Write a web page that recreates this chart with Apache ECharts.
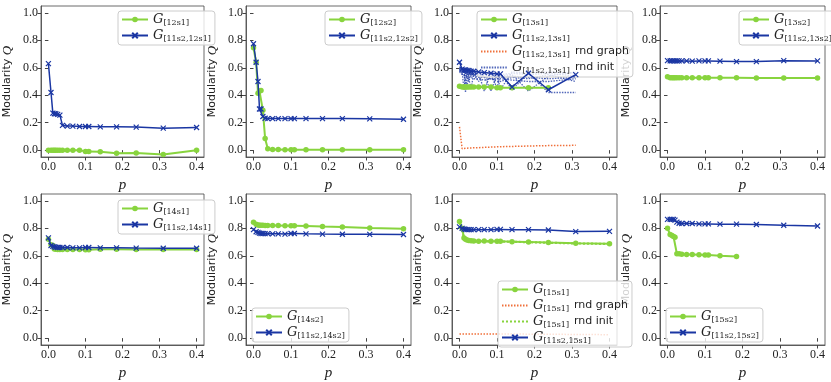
<!DOCTYPE html>
<html>
<head>
<meta charset="utf-8">
<script src="https://cdn.jsdelivr.net/npm/echarts@6/dist/echarts.min.js"></script>
<style>
  html, body { margin: 0; padding: 0; background: #fff; }
  #chart { width: 831px; height: 382px; }
</style>
</head>
<body>
<div id="chart"></div>
<script>
// p values (x axis), shared by all panels
const pValues = [0, 0.007, 0.012, 0.016, 0.02, 0.025, 0.031, 0.038, 0.051, 0.066, 0.084, 0.1, 0.109, 0.14, 0.184, 0.237, 0.31, 0.4]
const xTicks = [0, 0.1, 0.2, 0.3, 0.4]
const yTicks = [0, 0.2, 0.4, 0.6, 0.8, 1.0]

// panel 1
const g12s1 = [0, 0, 0, 0, 0, 0, 0, 0, 0, 0, 0, -0.01, -0.01, -0.012, -0.022, -0.02, -0.032, 0.0]
const b12s1 = [0.63, 0.42, 0.27, 0.265, 0.265, 0.26, 0.255, 0.18, 0.175, 0.175, 0.172, 0.172, 0.172, 0.17, 0.17, 0.168, 0.16, 0.165]
// panel 2
const g12s2 = [0.745, 0.64, 0.415, 0.43, 0.435, 0.29, 0.085, 0.01, 0.005, 0.005, 0.003, 0.003, 0.003, 0.003, 0.002, 0.002, 0.002, 0.002]
const b12s2 = [0.775, 0.64, 0.5, 0.3, 0.3, 0.245, 0.232, 0.23, 0.23, 0.23, 0.23, 0.23, 0.23, 0.23, 0.23, 0.23, 0.228, 0.225]
// panel 3
const g13s1 = [0.465, 0.46, 0.46, 0.46, 0.46, 0.46, 0.46, 0.46, 0.46, 0.46, 0.46, 0.455, 0.455, 0.455, 0.455, 0.455]
const b13s1 = [0.64, 0.59, 0.585, 0.585, 0.58, 0.58, 0.575, 0.575, 0.57, 0.565, 0.56, 0.555, 0.555, 0.46, 0.56, 0.44, 0.55]
const o13s1 = [0.17, 0.01, 0.012, 0.013, 0.014, 0.015, 0.016, 0.017, 0.018, 0.02, 0.022, 0.024, 0.025, 0.027, 0.03, 0.033, 0.035]
const r13s1a = [0.6, 0.58, 0.57, 0.56, 0.55, 0.55, 0.54, 0.54, 0.53, 0.53, 0.52, 0.52, 0.52, 0.51, 0.5, 0.5, 0.52]
const r13s1b = [0.59, 0.57, 0.44, 0.56, 0.55, 0.5, 0.56, 0.55, 0.55, 0.54, 0.43, 0.55, 0.54, 0.55, 0.43, 0.54, 0.57]
const r13s1c = [0.58, 0.56, 0.58, 0.42, 0.57, 0.57, 0.45, 0.56, 0.56, 0.55, 0.56, 0.45, 0.56, 0.44, 0.56, 0.42, 0.42]
const r13s1d = [0.6, 0.59, 0.56, 0.57, 0.46, 0.56, 0.55, 0.55, 0.5, 0.56, 0.55, 0.56, 0.55, 0.56, 0.55, 0.56, 0.54]
const r13s1e = [0.57, 0.55, 0.55, 0.54, 0.54, 0.53, 0.53, 0.52, 0.52, 0.51, 0.52, 0.5, 0.5, 0.53, 0.52, 0.55, 0.5]
const r13s1f = [0.59, 0.58, 0.58, 0.57, 0.57, 0.56, 0.56, 0.55, 0.56, 0.43, 0.57, 0.56, 0.44, 0.57, 0.56, 0.57, 0.56]
const r13s1g = [0.58, 0.57, 0.56, 0.56, 0.56, 0.55, 0.55, 0.55, 0.54, 0.55, 0.54, 0.54, 0.53, 0.54, 0.53, 0.52, 0.53]
// panel 4
const g13s2 = [0.535, 0.528, 0.527, 0.527, 0.527, 0.527, 0.527, 0.527, 0.527, 0.527, 0.527, 0.527, 0.527, 0.527, 0.527, 0.526, 0.526, 0.525]
const b13s2 = [0.652, 0.65, 0.65, 0.65, 0.65, 0.65, 0.65, 0.65, 0.65, 0.648, 0.65, 0.65, 0.65, 0.648, 0.645, 0.645, 0.652, 0.65]
// panel 5
const g14s1 = [0.72, 0.68, 0.675, 0.65, 0.648, 0.646, 0.646, 0.646, 0.646, 0.645, 0.645, 0.643, 0.643, 0.648, 0.648, 0.646, 0.645, 0.645]
const b14s1 = [0.73, 0.675, 0.668, 0.665, 0.662, 0.66, 0.66, 0.66, 0.66, 0.658, 0.658, 0.66, 0.66, 0.658, 0.658, 0.656, 0.655, 0.655]
// panel 6
const g14s2 = [0.845, 0.83, 0.825, 0.823, 0.822, 0.822, 0.821, 0.821, 0.82, 0.82, 0.819, 0.819, 0.819, 0.817, 0.813, 0.809, 0.803, 0.797]
const b14s2 = [0.79, 0.775, 0.77, 0.765, 0.762, 0.762, 0.761, 0.761, 0.76, 0.76, 0.758, 0.762, 0.762, 0.76, 0.758, 0.757, 0.756, 0.755]
// panel 7
const g15s1 = [0.85, 0.8, 0.73, 0.72, 0.715, 0.712, 0.71, 0.708, 0.706, 0.708, 0.706, 0.705, 0.705, 0.703, 0.7, 0.696, 0.692, 0.688]
const o15s1 = [0.03, 0.031, 0.031, 0.031, 0.031, 0.031, 0.031, 0.031, 0.031, 0.03, 0.03, 0.03, 0.03, 0.03, 0.029, 0.028, 0.027, 0.025]
const i15s1 = [0.84, 0.79, 0.725, 0.718, 0.713, 0.71, 0.708, 0.707, 0.705, 0.706, 0.705, 0.704, 0.703, 0.702, 0.699, 0.695, 0.69, 0.686]
const b15s1 = [0.81, 0.8, 0.795, 0.792, 0.79, 0.79, 0.79, 0.79, 0.79, 0.79, 0.79, 0.792, 0.792, 0.79, 0.79, 0.788, 0.776, 0.778]
// panel 8
const g15s2 = [0.8, 0.755, 0.748, 0.74, 0.735, 0.615, 0.615, 0.612, 0.61, 0.61, 0.608, 0.605, 0.605, 0.6, 0.595]
const b15s2 = [0.865, 0.865, 0.865, 0.865, 0.86, 0.845, 0.837, 0.835, 0.835, 0.835, 0.832, 0.832, 0.832, 0.83, 0.83, 0.828, 0.822, 0.817]

const GREEN = '#88d43e'
const BLUE = '#1a36a3'
const ORANGE = '#f0703a'
const CROSS = 'path://M0,0L10,10M0,10L10,0'

const RND = 'G[11s2,13s1] rnd init'
const panels = [
  { left: 39, top: 6, h: 151, legend: { left: 118, top: 11 },
    lines: [['g', 'G[12s1]', g12s1], ['b', 'G[11s2,12s1]', b12s1]] },
  { left: 246, top: 6, h: 151, legend: { left: 325, top: 11 },
    lines: [['g', 'G[12s2]', g12s2], ['b', 'G[11s2,12s2]', b12s2]] },
  { left: 452, top: 6, h: 151, legend: { left: 477, top: 11 },
    lines: [['g', 'G[13s1]', g13s1], ['b', 'G[11s2,13s1]', b13s1], ['o', 'G[11s2,13s1] rnd graph', o13s1],
      ['bi', RND, r13s1a], ['bi', RND, r13s1b], ['bi', RND, r13s1c], ['bi', RND, r13s1d],
      ['bi', RND, r13s1e], ['bi', RND, r13s1f], ['bi', RND, r13s1g]] },
  { left: 660, top: 6, h: 151, legend: { left: 739, top: 11 },
    lines: [['g', 'G[13s2]', g13s2], ['b', 'G[11s2,13s2]', b13s2]] },
  { left: 39, top: 194, h: 153, legend: { left: 118, top: 200 },
    lines: [['g', 'G[14s1]', g14s1], ['b', 'G[11s2,14s1]', b14s1]] },
  { left: 246, top: 194, h: 153, legend: { left: 252, top: 308 },
    lines: [['g', 'G[14s2]', g14s2], ['b', 'G[11s2,14s2]', b14s2]] },
  { left: 452, top: 194, h: 153, legend: { left: 498, top: 281 },
    lines: [['g', 'G[15s1]', g15s1], ['o', 'G[15s1] rnd graph', o15s1], ['gi', 'G[15s1] rnd init', i15s1], ['b', 'G[11s2,15s1]', b15s1]] },
  { left: 660, top: 194, h: 153, legend: { left: 666, top: 308 },
    lines: [['g', 'G[15s2]', g15s2], ['b', 'G[11s2,15s2]', b15s2]] }
]

const tickFont = { fontFamily: 'Liberation Serif', fontSize: 12, color: '#222' }

function legendLabel(name) {
  const m = name.match(/^G\[(.*?)\](.*)$/)
  let s = '{g|G}{s|[' + m[1] + ']}'
  if (m[2]) s += '{t|' + m[2].trim() + '}'
  return s
}

function makeSeries(kind, name, ys, gi) {
  const data = ys.map((v, i) => [pValues[i], v])
  const base = { type: 'line', name: name, data: data, xAxisIndex: gi * 2, yAxisIndex: gi * 2, animation: false, silent: true }
  if (kind === 'g') {
    return Object.assign(base, { z: 3, symbol: 'circle', symbolSize: 5.5, lineStyle: { color: GREEN, width: 2 }, itemStyle: { color: GREEN } })
  }
  if (kind === 'b') {
    return Object.assign(base, { z: 4, symbol: CROSS, symbolSize: 5, lineStyle: { color: BLUE, width: 1.5 }, itemStyle: { color: BLUE, borderColor: BLUE, borderWidth: 1.2 } })
  }
  if (kind === 'o') {
    return Object.assign(base, { z: 2, symbol: 'none', lineStyle: { color: ORANGE, width: 1.5, type: [1.5, 1.5] }, itemStyle: { color: ORANGE } })
  }
  if (kind === 'gi') {
    return Object.assign(base, { z: 2, symbol: 'none', lineStyle: { color: GREEN, width: 2.2, type: [2, 2] }, itemStyle: { color: GREEN } })
  }
  // blue random init ensemble
  return Object.assign(base, { z: 2, symbol: 'none', lineStyle: { color: BLUE, width: 1.3, type: [1.5, 1.2], opacity: 0.75 }, itemStyle: { color: BLUE } })
}

const grid = [], xAxis = [], yAxis = [], series = [], legend = []
panels.forEach((p, gi) => {
  grid.push({ left: p.left, top: p.top, width: 165, height: p.h, show: true, borderColor: '#444', borderWidth: 0.8, backgroundColor: 'transparent' })
  const xCommon = { type: 'value', gridIndex: gi, min: -0.02, max: 0.42, splitLine: { show: false } }
  const yCommon = { type: 'value', gridIndex: gi, min: -0.05, max: 1.05, splitLine: { show: false } }
  xAxis.push(Object.assign({}, xCommon, {
    position: 'bottom',
    name: 'p', nameLocation: 'middle', nameGap: 21,
    nameTextStyle: { fontFamily: 'Liberation Serif', fontStyle: 'italic', fontSize: 15, color: '#222' },
    axisLine: { show: true, onZero: false, lineStyle: { color: '#444', width: 0.8 } },
    axisTick: { show: true, length: 3.5, lineStyle: { color: '#444' }, customValues: xTicks },
    axisLabel: Object.assign({ margin: 4, customValues: xTicks, formatter: v => v.toFixed(1) }, tickFont)
  }))
  xAxis.push(Object.assign({}, xCommon, {
    position: 'top',
    axisLine: { show: false },
    axisTick: { show: true, inside: true, length: 3.5, lineStyle: { color: '#444' }, customValues: xTicks },
    axisLabel: { show: false }
  }))
  yAxis.push(Object.assign({}, yCommon, {
    position: 'left',
    name: '{a|Modularity }{q|Q}', nameLocation: 'middle', nameGap: 27, nameRotate: 90,
    nameTextStyle: { rich: {
      a: { fontFamily: 'DejaVu Sans', fontSize: 11, color: '#222' },
      q: { fontFamily: 'Liberation Serif', fontStyle: 'italic', fontSize: 13, color: '#222' }
    } },
    axisLine: { show: true, onZero: false, lineStyle: { color: '#444', width: 0.8 } },
    axisTick: { show: true, length: 3.5, lineStyle: { color: '#444' }, customValues: yTicks },
    axisLabel: Object.assign({ margin: 3, customValues: yTicks, formatter: v => v.toFixed(1) }, tickFont)
  }))
  yAxis.push(Object.assign({}, yCommon, {
    position: 'right',
    axisLine: { show: false },
    axisTick: { show: true, inside: true, length: 3.5, lineStyle: { color: '#444' }, customValues: yTicks },
    axisLabel: { show: false }
  }))
  const names = []
  const noSym = {}
  p.lines.forEach(l => {
    series.push(makeSeries(l[0], l[1], l[2], gi))
    if (names.indexOf(l[1]) < 0) names.push(l[1])
    if (l[0] === 'o' || l[0] === 'gi' || l[0] === 'bi') noSym[l[1]] = true
  })
  legend.push({
    data: names.map(n => noSym[n] ? { name: n, itemStyle: { opacity: 0 } } : n),
    orient: 'vertical', left: p.legend.left, top: p.legend.top,
    itemWidth: 26, itemHeight: 7, itemGap: 2,
    padding: [2, 4, 2, 3],
    backgroundColor: 'rgba(255,255,255,0.8)', borderColor: '#cccccc', borderWidth: 1, borderRadius: 3,
    selectedMode: false,
    formatter: legendLabel,
    textStyle: { color: '#222', rich: {
      g: { fontFamily: 'DejaVu Serif', fontStyle: 'italic', fontSize: 13, color: '#222' },
      s: { fontFamily: 'DejaVu Serif', fontSize: 8, color: '#222', padding: [7, 0, 0, 0] },
      t: { fontFamily: 'DejaVu Sans', fontSize: 11, color: '#222', padding: [0, 0, 0, 5] }
    } }
  })
})

const chart = echarts.init(document.getElementById('chart'), null, { renderer: 'canvas' })
chart.setOption({ backgroundColor: '#fff', animation: false, grid, xAxis, yAxis, series, legend })
</script>
</body>
</html>
